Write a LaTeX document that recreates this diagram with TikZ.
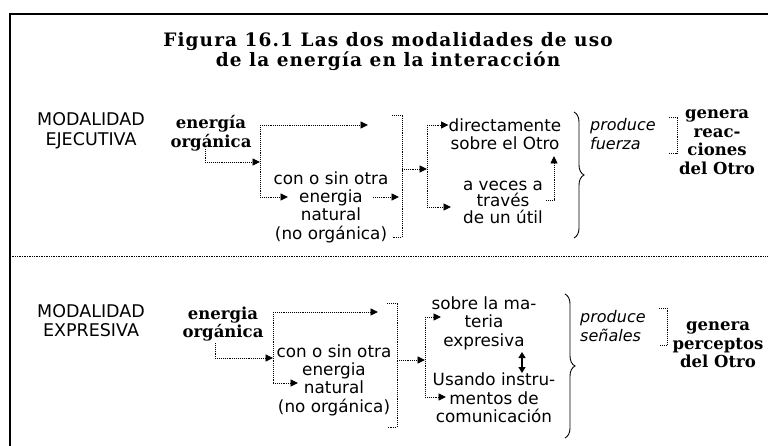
\documentclass[tikz,border=0pt]{standalone}
\usepackage{fontspec}
\setmainfont{DejaVu Sans}
\newfontfamily\serifb{DejaVu Serif}
\usetikzlibrary{arrows.meta,decorations.pathreplacing,calc}
\tikzset{
  txt/.style={font=\fontsize{16.8}{18.3}\selectfont, align=center, inner sep=0pt},
  bld/.style={font=\serifb\bfseries\fontsize{16.5}{18.5}\selectfont, align=center, inner sep=0pt},
  itl/.style={font=\itshape\fontsize{16}{18.5}\selectfont, align=left, inner sep=0pt, anchor=west},
  ttl/.style={font=\serifb\bfseries\fontsize{18.5}{20}\selectfont\addfontfeature{LetterSpace=6}, align=center, inner sep=0pt},
  conn/.style={densely dotted, line width=0.9pt},
  arr/.style={conn, -{Triangle[length=7.5pt,width=7pt]}},
  brk/.style={densely dotted, line width=0.9pt},
  brc/.style={decorate, decoration={brace, amplitude=10pt}, line width=0.9pt},
}
\begin{document}
\begin{tikzpicture}[x=1pt,y=-1pt]
\useasboundingbox (0,0) rectangle (768,446);
% frame
\draw[line width=1.8pt] (10,446) -- (10,14) -- (768,14);
\draw[densely dotted, line width=0.7pt] (10,256) -- (768,256);
% title
\node[ttl] (title) at (388,52) {Figura 16.1 Las dos modalidades de uso\\de la energía en la interacción};

% ===== Section 1 =====
\node[txt, font=\fontsize{17.5}{20}\selectfont] (mod1) at (91,131) {MODALIDAD\\EJECUTIVA};
\node[bld] (eo1) at (211,133) {energía\\orgánica};
\node[txt] (cs1) at (331,207) {con o sin otra\\energia\\natural\\(no orgánica)};
\node[txt] (dir) at (505,134) {directamente\\sobre el Otro};
\node[txt, font=\fontsize{16.8}{16.5}\selectfont] (ave) at (503,202) {a veces a\\través\\de un útil};
\node[itl] (pf) at (590,134) {produce\\fuerza};
\node[bld] (gen1) at (717,142) {genera\\reac-\\ciones\\del Otro};

\coordinate (j1t) at (260,125);
\coordinate (j1m) at (260,162);
\coordinate (j1b) at (260,197);
\coordinate (s1) at (205,149);
\coordinate (a1) at (368,125);
\coordinate (a2) at (288,197);
\coordinate (e1a) at (373,197);
\coordinate (e1b) at (399,197);
\draw[conn] (j1t) -- (j1b);
\draw[arr] (j1t) -- (a1);
\draw[arr] (s1) |- (j1m);
\draw[arr] (j1b) -- (a2);
\draw[arr] (e1a) -- (e1b);
% bracket 1
\coordinate (b1t) at (402,115);
\coordinate (b1b) at (402,237);
\coordinate (b1m) at (402,169);
\draw[brk] ($(b1t)+(-10,0)$) -- (b1t) -- (b1b) -- ($(b1b)+(-10,0)$);
\coordinate (k1t) at (427,125);
\coordinate (k1m) at (427,169);
\coordinate (k1b) at (427,207);
\draw[arr] (b1m) -- (k1m);
\draw[conn] (k1t) -- (k1b);
\draw[arr] (k1t) -- (dir.west |- k1t);
\draw[arr] (k1b) -- (451,207);
\coordinate (u1b) at (554,200);
\coordinate (u1t) at (554,156);
\draw[arr] ($(u1b)+(-8,0)$) -- (u1b) -- (u1t);
% brace 1
\coordinate (br1t) at (574,112);
\coordinate (br1b) at (574,238);
\draw[brc] (br1t) -- (br1b);
% bracket 2
\coordinate (c1t) at (677,117);
\coordinate (c1b) at (677,153);
\draw[brk] ($(c1t)+(-8,0)$) -- (c1t) -- (c1b) -- ($(c1b)+(-8,0)$);

% ===== Section 2 =====
\node[txt, font=\fontsize{17.5}{19}\selectfont] (mod2) at (91,321) {MODALIDAD\\EXPRESIVA};
\node[bld] (eo2) at (223,324) {energia\\orgánica};
\node[txt] (cs2) at (334,380) {con o sin otra\\energia\\natural\\(no orgánica)};
\node[txt, font=\fontsize{16.8}{18.5}\selectfont] (sob) at (484,323) {sobre la ma-\\teria\\expresiva};
\node[txt, font=\fontsize{16.8}{18.5}\selectfont] (usa) at (494,398) {Usando instru-\\mentos de\\comunicación};
\node[itl] (ps) at (580,326) {produce\\señales};
\node[bld] (gen2) at (718,345) {genera\\perceptos\\del Otro};

\coordinate (j2t) at (273,312);
\coordinate (j2m) at (273,358);
\coordinate (j2b) at (273,383);
\coordinate (s2) at (215,343);
\draw[conn] (j2t) -- (j2b);
\draw[arr] (j2t) -- (378,312);
\draw[arr] (s2) |- (j2m);
\draw[arr] (j2b) -- (298,383);
% bracket 3
\coordinate (b2t) at (397,303);
\coordinate (b2b) at (397,427);
\coordinate (b2m) at (397,360);
\draw[brk] ($(b2t)+(-10,0)$) -- (b2t) -- (b2b) -- ($(b2b)+(-10,0)$);
\coordinate (k2t) at (425,317);
\coordinate (k2m) at (425,360);
\coordinate (k2b) at (425,397);
\draw[arr] (b2m) -- (k2m);
\draw[conn] (k2t) -- (k2b);
\draw[arr] (k2t) -- (441,317);
\draw[arr] (k2b) -- (446,397);
\coordinate (d1) at (522,352);
\coordinate (d2) at (522,373);
\draw[line width=1.2pt, {Triangle[length=6pt,width=7pt]}-{Triangle[length=6pt,width=7pt]}] (d1) -- (d2);
% brace 2
\coordinate (br2t) at (565,294);
\coordinate (br2b) at (565,438);
\draw[brc] (br2t) -- (br2b);
% bracket 4
\coordinate (c2t) at (667,308);
\coordinate (c2b) at (667,345);
\draw[brk] ($(c2t)+(-8,0)$) -- (c2t) -- (c2b) -- ($(c2b)+(-8,0)$);
\end{tikzpicture}
\end{document}
